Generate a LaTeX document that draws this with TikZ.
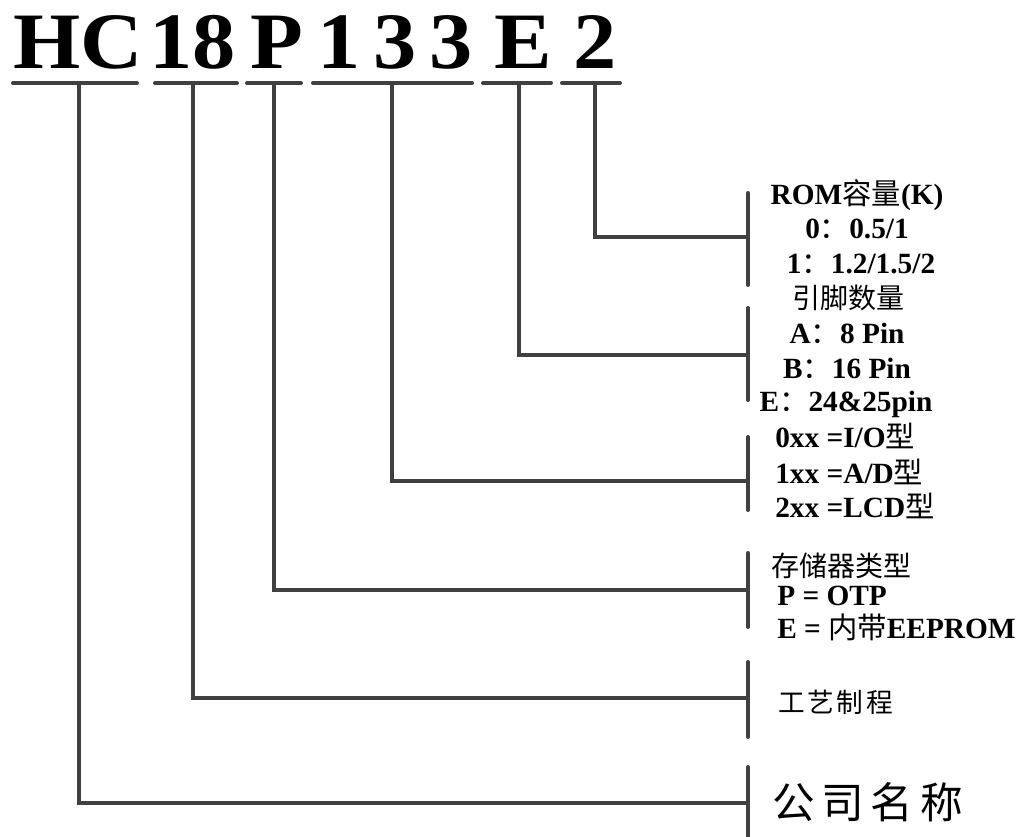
\documentclass[tikz,border=0pt]{standalone}
\usepackage{fontspec}
\setmainfont{Liberation Serif}
\newfontfamily\zhfont{Noto Sans CJK SC}
\definecolor{leadgray}{RGB}{64,64,64}
\newcommand{\zh}[1]{{\zhfont\mdseries #1}}
\tikzset{
  lead/.style={draw=leadgray, line width=3pt, line cap=round},
  partname/.style={anchor=base, inner sep=0pt, xscale=1.08, font=\fontsize{60}{60}\selectfont\bfseries},
  codeline/.style={anchor=base, inner sep=0pt, font=\fontsize{22}{22}\selectfont\bfseries},
  codehead/.style={anchor=base, inner sep=0pt, font=\fontsize{21}{21}\selectfont\zhfont},
}
\begin{document}
\begin{tikzpicture}[x=0.75pt,y=0.75pt,yscale=-1,xscale=1]
\useasboundingbox (0,0) rectangle (1024,836);

% Text Node
\node [partname] (hc) at (78,68) {HC};
\node [partname] (n18) at (192.5,68) {18};
\node [partname] (p) at (276.5,68) {P};
\node [partname] (d1) at (339.5,68) {1};
\node [partname] (d2) at (395,68) {3};
\node [partname] (d3) at (451.5,68) {3};
\node [partname] (e) at (523.5,68) {E};
\node [partname] (n2) at (595.5,68) {2};

%Underline ends and junctions
\coordinate (hcL) at (13,83);  \coordinate (hcR) at (137,83);  \coordinate (hcJ) at (79,83);
\coordinate (n18L) at (155,83); \coordinate (n18R) at (237,83); \coordinate (n18J) at (193,83);
\coordinate (pL) at (247,83);  \coordinate (pR) at (301,83);  \coordinate (pJ) at (274,83);
\coordinate (dL) at (313,83);  \coordinate (dR) at (472,83);  \coordinate (dJ) at (392,83);
\coordinate (eL) at (483,83);  \coordinate (eR) at (551,83);  \coordinate (eJ) at (519,83);
\coordinate (n2L) at (562,83); \coordinate (n2R) at (620,83); \coordinate (n2J) at (595,83);

%Bracket ends and midpoints
\coordinate (romT) at (748,193);  \coordinate (romB) at (748,285);  \coordinate (romM) at (748,237);
\coordinate (pinT) at (748,308);  \coordinate (pinB) at (748,400);  \coordinate (pinM) at (748,355);
\coordinate (typT) at (748,437);  \coordinate (typB) at (748,510);  \coordinate (typM) at (748,481);
\coordinate (memT) at (748,553);  \coordinate (memB) at (748,627);  \coordinate (memM) at (748,590);
\coordinate (proT) at (748,662);  \coordinate (proB) at (748,737);  \coordinate (proM) at (748,698);
\coordinate (corT) at (748,767);  \coordinate (corB) at (748,840);  \coordinate (corM) at (748,803);

%Straight Lines
\draw [lead] (hcL) -- (hcR);
\draw [lead] (n18L) -- (n18R);
\draw [lead] (pL) -- (pR);
\draw [lead] (dL) -- (dR);
\draw [lead] (eL) -- (eR);
\draw [lead] (n2L) -- (n2R);
\draw [lead] (romT) -- (romB);
\draw [lead] (pinT) -- (pinB);
\draw [lead] (typT) -- (typB);
\draw [lead] (memT) -- (memB);
\draw [lead] (proT) -- (proB);
\draw [lead] (corT) -- (corB);

%Leader Lines
\draw [lead] (n2J) |- (romM);
\draw [lead] (eJ) |- (pinM);
\draw [lead] (dJ) |- (typM);
\draw [lead] (pJ) |- (memM);
\draw [lead] (n18J) |- (proM);
\draw [lead] (hcJ) |- (corM);

% Text Node
\node [codeline] (rom) at (857,204) {ROM\zh{容量}(K)};
\node [codeline] (rom0) at (857,238) {0\zh{：}0.5/1};
\node [codeline] (rom1) at (861,273) {1\zh{：}1.2/1.5/2};
% Text Node
\node [codehead] (pins) at (848,308) {引脚数量};
\node [codeline] (pinA) at (847,343) {A\zh{：}8 Pin};
\node [codeline] (pinB) at (847,378) {B\zh{：}16 Pin};
\node [codeline] (pinE) at (846,411) {E\zh{：}24\&25pin};
% Text Node
\node [codeline, anchor=base west] (io0) at (775,447) {0xx =I/O\zh{型}};
\node [codeline, anchor=base west] (io1) at (775,483) {1xx =A/D\zh{型}};
\node [codeline, anchor=base west] (io2) at (775,517) {2xx =LCD\zh{型}};
% Text Node
\node [codehead, anchor=base west] (mem) at (771,576) {存储器类型};
\node [codeline, anchor=base west] (memP) at (777,605) {P = OTP};
\node [codeline, anchor=base west] (memE) at (777,638) {E = \zh{内带}EEPROM};
% Text Node
\node [anchor=base west, inner sep=0pt, font=\fontsize{20}{20}\selectfont\zhfont] (proc) at (778,712) {工\hspace{2pt}艺\hspace{2pt}制\hspace{2pt}程};
\node [anchor=base west, inner sep=0pt, font=\fontsize{32}{32}\selectfont\zhfont] (corp) at (772,818) {公\hspace{5pt}司\hspace{5pt}名\hspace{5pt}称};

\end{tikzpicture}
\end{document}
